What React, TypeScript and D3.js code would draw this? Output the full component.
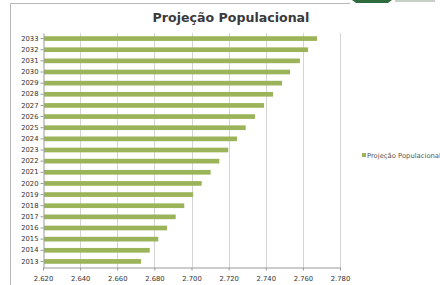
import { useEffect, useRef } from "react";
import * as d3 from "d3";

const years = [
  "2013", "2014", "2015", "2016", "2017", "2018", "2019", "2020", "2021", "2022", "2023",
  "2024", "2025", "2026", "2027", "2028", "2029", "2030", "2031", "2032", "2033",
];
const population = [
  2.6728, 2.6775, 2.6821, 2.6868, 2.6915, 2.6961, 2.7009, 2.7055, 2.7103, 2.715, 2.7198,
  2.7245, 2.7292, 2.7342, 2.7391, 2.7439, 2.7488, 2.7531, 2.7584, 2.7628, 2.7676,
];
const xTicks = [2.62, 2.64, 2.66, 2.68, 2.7, 2.72, 2.74, 2.76, 2.78];
const seriesName = "Projeção Populacional";

const W = 440;
const H = 285;
const PLOT = { left: 43, right: 340, top: 33, bottom: 267 };
const BAR_COLOR = "#9bb45a";
const FONT = "DejaVu Sans, Verdana, sans-serif";

export default function App() {
  const svgRef = useRef<SVGSVGElement>(null);

  useEffect(() => {
    const svg = d3.select(svgRef.current);
    svg.selectAll("*").remove();

    svg.append("rect").attr("width", W).attr("height", H).attr("fill", "#ffffff");

    // outer frame (cut by the page edges)
    svg.append("path")
      .attr("d", `M10.5,${H} V3.5 H350`)
      .attr("fill", "none")
      .attr("stroke", "#b8b8b8")
      .attr("stroke-width", 1);

    // logo remnant at top right
    svg.append("path")
      .attr("d", "M352,0 H392 L388,3 H356 Z")
      .attr("fill", "#2e6b3e");
    svg.append("rect")
      .attr("x", 395).attr("y", 0).attr("width", 40).attr("height", 2)
      .attr("fill", "#c8d0c8");

    const x = d3.scaleLinear().domain([2.62, 2.78]).range([PLOT.left, PLOT.right]);
    const y = d3.scaleBand<string>()
      .domain([...years].reverse())
      .range([PLOT.top, PLOT.bottom])
      .paddingInner(0.58)
      .paddingOuter(0.29);

    // gridlines
    svg.append("g")
      .selectAll("line")
      .data(xTicks.slice(1))
      .join("line")
      .attr("x1", (d) => Math.round(x(d)) + 0.5)
      .attr("x2", (d) => Math.round(x(d)) + 0.5)
      .attr("y1", PLOT.top)
      .attr("y2", PLOT.bottom)
      .attr("stroke", "#d4d4d4")
      .attr("stroke-width", 1);

    // bars
    svg.append("g")
      .selectAll("rect")
      .data(years.map((yr, i) => ({ yr, v: population[i] })))
      .join("rect")
      .attr("x", PLOT.left + 1)
      .attr("y", (d) => y(d.yr)!)
      .attr("width", (d) => x(d.v) - PLOT.left - 1)
      .attr("height", y.bandwidth())
      .attr("fill", BAR_COLOR);

    // y axis
    const yAxis = svg.append("g")
      .attr("transform", `translate(${PLOT.left + 0.5},0)`)
      .call(d3.axisLeft(y).tickSize(3).tickSizeOuter(0));
    yAxis.select(".domain").attr("stroke", "#999");
    yAxis.selectAll(".tick line").attr("stroke", "#999");
    yAxis.selectAll("text")
      .attr("font-size", "6.8px")
      .attr("font-family", FONT)
      .attr("fill", "#333")
      .attr("x", -5);

    // x axis
    const xAxis = svg.append("g")
      .attr("transform", `translate(0,${PLOT.bottom + 0.5})`)
      .call(
        d3.axisBottom(x)
          .tickValues(xTicks)
          .tickSize(3)
          .tickSizeOuter(0)
          .tickFormat((d) => d3.format(".3f")(d as number)),
      );
    xAxis.select(".domain").attr("stroke", "#999");
    xAxis.selectAll(".tick line").attr("stroke", "#999");
    xAxis.selectAll("text")
      .attr("font-size", "6.8px")
      .attr("font-family", FONT)
      .attr("fill", "#333")
      .attr("y", 8.5);

    // title
    svg.append("text")
      .attr("x", 231)
      .attr("y", 22)
      .attr("text-anchor", "middle")
      .attr("font-size", "12.6px")
      .attr("font-weight", "bold")
      .attr("font-family", FONT)
      .attr("fill", "#3a3a3a")
      .text(seriesName);

    // legend
    svg.append("rect")
      .attr("x", 362).attr("y", 153).attr("width", 4).attr("height", 4)
      .attr("fill", BAR_COLOR);
    svg.append("text")
      .attr("x", 367)
      .attr("y", 157.5)
      .attr("font-size", "6.8px")
      .attr("font-family", FONT)
      .attr("fill", "#555")
      .text(seriesName);
  }, []);

  return (
    <svg
      ref={svgRef}
      width={W}
      height={H}
      style={{ position: "fixed", left: 0, top: 0, display: "block" }}
    />
  );
}
